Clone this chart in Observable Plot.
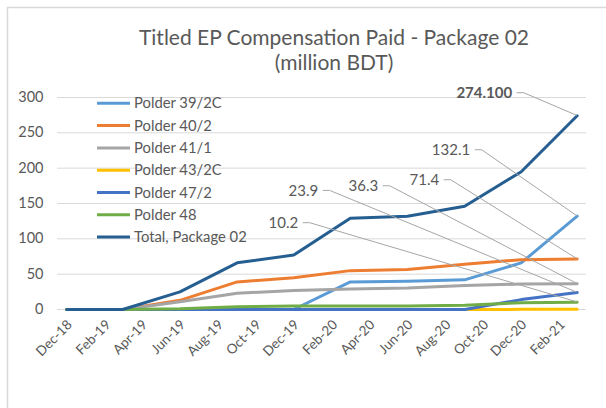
<!DOCTYPE html>
<html>
<head>
<meta charset="utf-8">
<script src="https://cdn.jsdelivr.net/npm/d3@7"></script>
<script src="https://cdn.jsdelivr.net/npm/@observablehq/plot@0.6"></script>
<style>
  html, body { margin: 0; padding: 0; background: #fff; }
  #chart { width: 606px; height: 408px; }
</style>
</head>
<body>
<div id="chart"></div>
<script>
// ---- Data ----
const dates = ["Dec-18","Mar-19","Jun-19","Sep-19","Dec-19","Mar-20","Jun-20","Sep-20","Dec-20","Mar-21"];
const seriesNames = ["Polder 39/2C","Polder 40/2","Polder 41/1","Polder 43/2C","Polder 47/2","Polder 48","Total, Package 02"];
const polder39_2C = [0, 0, 0, 0, 0, 39, 40, 42, 66, 132.1];
const polder40_2  = [0, 0, 13, 39, 45, 55, 56.5, 64, 70.5, 71.4];
const polder41_1  = [0, 0, 11, 23, 27, 29, 30.5, 34, 36, 36.3];
const polder43_2C = [0, 0, 0, 0, 0, 0, 0, 0, 0.2, 0.2];
const polder47_2  = [0, 0, 0, 0, 0, 0, 0, 0, 14, 23.9];
const polder48    = [0, 0, 1, 4, 5, 5, 5, 6, 9.5, 10.2];
const totalPkg02  = [0, 0, 25, 66, 77, 129, 132, 146, 195, 274.1];
const yTicks = [0, 50, 100, 150, 200, 250, 300];
const xTickLabels = ["Dec-18","Feb-19","Apr-19","Jun-19","Aug-19","Oct-19","Dec-19","Feb-20","Apr-20","Jun-20","Aug-20","Oct-20","Dec-20","Feb-21"];
const titleLines = ["Titled EP Compensation Paid - Package 02", "(million BDT)"];

// ---- Styles ----
const seriesColors = ["#5B9BD5","#ED7D31","#A5A5A5","#FFC000","#4472C4","#70AD47","#255E91"];
const FONT = "Lato, 'Open Sans', sans-serif";
const TEXT = "#595959";

const seriesValues = [polder39_2C, polder40_2, polder41_1, polder43_2C, polder47_2, polder48, totalPkg02];
const parse = d3.utcParse("%b-%y");
const rows = seriesNames.flatMap((s, i) => seriesValues[i].map((v, j) => ({series: s, date: parse(dates[j]), value: v})));
const xTicks = xTickLabels.map(parse);

// data labels at the last point: label placement (pixel offsets of the label's right edge)
const last = dates.length - 1;
const labelLayout = [
  {i: 6, rx: -65,  ry: -22.6, fmt: ".3f", bold: true},
  {i: 0, rx: -107, ry: -65.9, fmt: ".1f"},
  {i: 1, rx: -138, ry: -78.8, fmt: ".1f"},
  {i: 2, rx: -199, ry: -97.6, fmt: ".1f"},
  {i: 4, rx: -259, ry: -101.7, fmt: ".1f"},
  {i: 5, rx: -279, ry: -79.1, fmt: ".1f"}
];
const labels = labelLayout.map(l => ({
  ...l,
  date: parse(dates[last]),
  value: seriesValues[l.i][last],
  text: d3.format(l.fmt)(seriesValues[l.i][last])
}));

const leaderMark = (index, scales) => {
  const g = d3.create("svg:g").attr("fill", "none").attr("stroke", "#a6a6a6").attr("stroke-width", 1);
  for (const l of labels) {
    const px = scales.x(l.date), py = scales.y(l.value);
    g.append("path").attr("d", `M${px},${py}L${px + l.rx + 12},${py + l.ry}L${px + l.rx + 5},${py + l.ry}`);
  }
  return g.node();
};

const plot = Plot.plot({
  width: 606,
  height: 408,
  marginLeft: 57,
  marginRight: 20,
  marginTop: 97,
  marginBottom: 99,
  style: {fontFamily: FONT, fontSize: "14px", color: TEXT, background: "white", overflow: "visible"},
  x: {type: "utc", domain: [new Date(Date.UTC(2018, 10, 16)), new Date(Date.UTC(2021, 2, 16))], label: null},
  y: {domain: [0, 300], label: null},
  color: {domain: seriesNames, range: seriesColors},
  marks: [
    Plot.ruleY(yTicks, {stroke: "#d9d9d9", strokeWidth: 1}),
    Plot.axisY({ticks: yTicks, tickSize: 0, tickPadding: 14, label: null, fontSize: 14.5}),
    Plot.axisX({ticks: xTicks, tickFormat: d3.utcFormat("%b-%y"), tickRotate: -45, tickSize: 0, tickPadding: 13, dx: 3, label: null, fontSize: 13.5}),
    Plot.line(rows, {x: "date", y: "value", z: "series", stroke: "series", strokeWidth: 3, strokeLinejoin: "round"}),
    leaderMark,
    ...labels.map(l => Plot.text([l], {
      x: "date", y: "value", text: "text", dx: l.rx, dy: l.ry,
      textAnchor: "end", fontSize: 15, fill: TEXT, fontWeight: l.bold ? "bold" : "normal"
    }))
  ]
});

const svg = d3.select(plot);
// chart-area border (top and left edges visible in the reference)
svg.append("path").attr("d", "M7.5,408V7.5H606").attr("fill", "none").attr("stroke", "#d9d9d9").attr("stroke-width", 1.5);

// title
const title = svg.append("text").attr("text-anchor", "middle").attr("fill", TEXT)
  .style("font-family", FONT).style("font-size", "21px");
title.append("tspan").attr("x", 334).attr("y", 45).text(titleLines[0]);
title.append("tspan").attr("x", 334).attr("y", 70).text(titleLines[1]);

// legend (inside plot area, top-left)
const legend = svg.append("g").attr("text-anchor", "start").style("font-family", FONT).style("font-size", "14.8px");
seriesNames.forEach((s, i) => {
  const y = 103.3 + i * 22.3;
  legend.append("line").attr("x1", 97).attr("x2", 130).attr("y1", y).attr("y2", y)
    .attr("stroke", seriesColors[i]).attr("stroke-width", 3);
  legend.append("text").attr("x", 134).attr("y", y).attr("dy", "0.35em").attr("text-anchor", "start").attr("fill", TEXT).text(s);
});

document.getElementById("chart").appendChild(plot);
</script>
</body>
</html>
